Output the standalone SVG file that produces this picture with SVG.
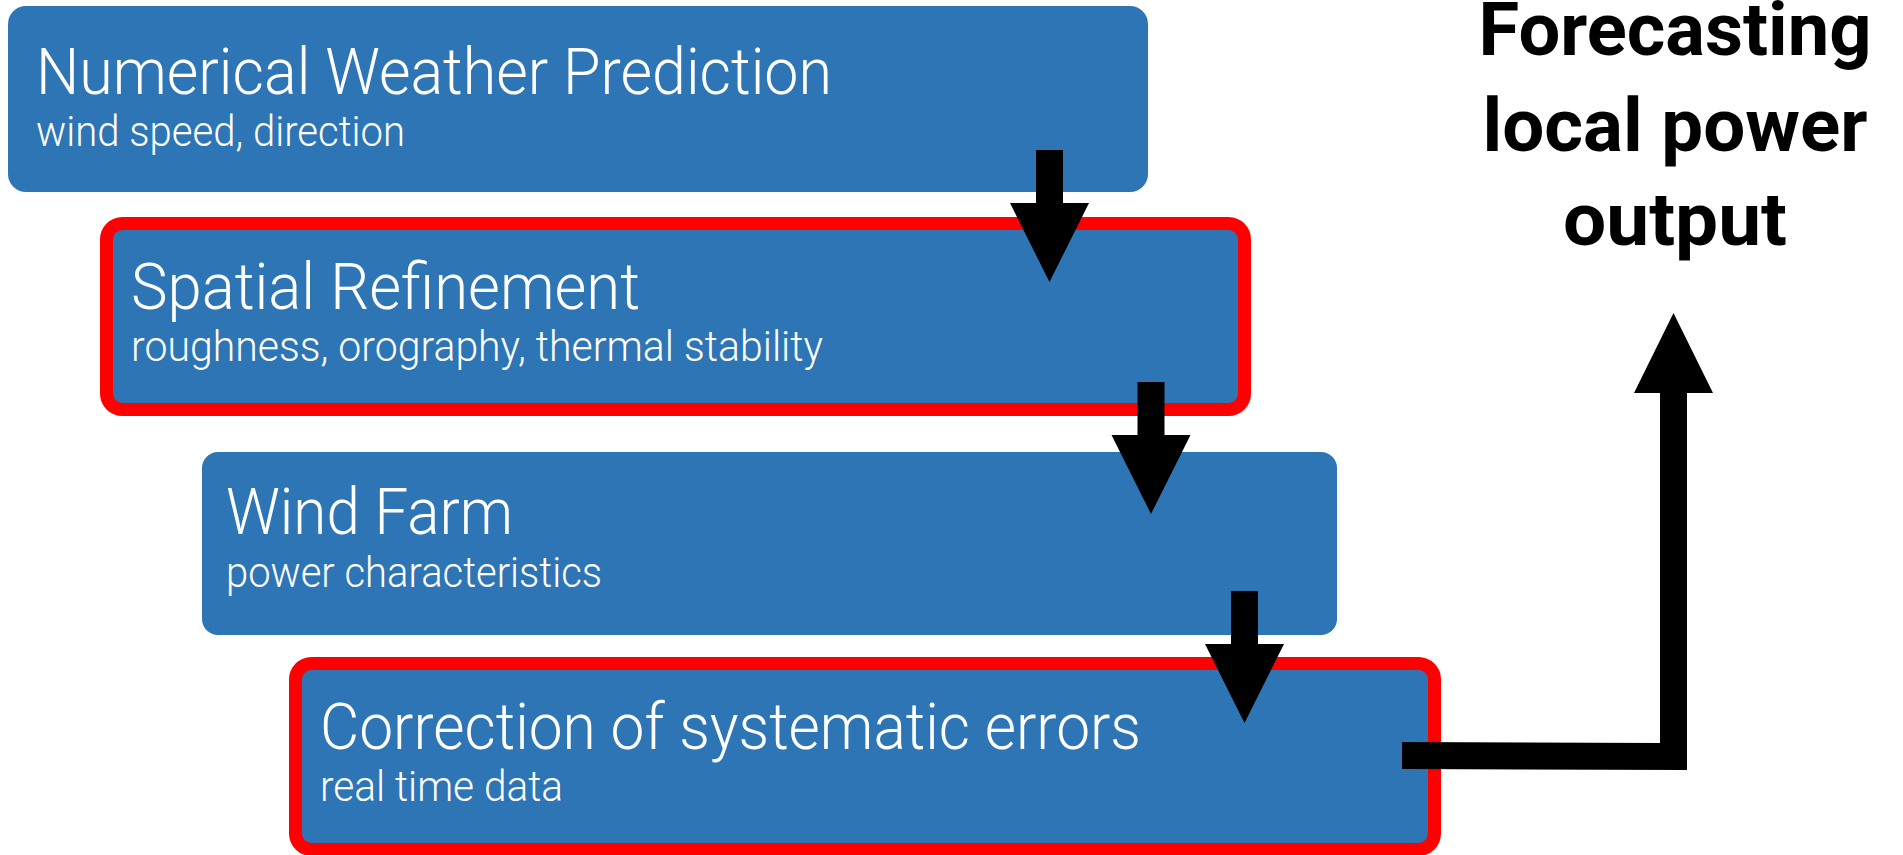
<svg xmlns="http://www.w3.org/2000/svg" width="1903" height="855" viewBox="0 0 1903 855">
<style>
.box{fill:#2E75B6}
.hl{fill:#2E75B6;stroke:#FF0000;stroke-width:13}
.t{font-family:Roboto,"Open Sans",sans-serif;font-weight:300;fill:#FFFFFF;font-size:64px}
.s{font-family:Roboto,"Open Sans",sans-serif;font-weight:300;fill:#FFFFFF;font-size:42.7px}
.f{font-family:Roboto,"Open Sans",sans-serif;font-weight:700;fill:#000000;font-size:74px;text-anchor:middle}
.arr{fill:#000000}
</style>
<defs>
<path id="down" d="M-13.5,-132 H13.5 V-79 H39.5 L0,0 L-39.5,-79 H-13.5 Z"/>
</defs>
<rect width="1903" height="855" fill="#FFFFFF"/>
<g id="nwp">
<rect class="box" x="8" y="6" width="1140" height="186" rx="18"/>
<text class="t" x="36" y="94" textLength="796" lengthAdjust="spacingAndGlyphs">Numerical Weather Prediction</text>
<text class="s" x="36" y="146" textLength="369" lengthAdjust="spacingAndGlyphs">wind speed, direction</text>
</g>
<g id="spatial">
<rect class="hl" x="106.5" y="223.5" width="1138" height="186" rx="16"/>
<text class="t" x="131" y="309" textLength="509" lengthAdjust="spacingAndGlyphs">Spatial Refinement</text>
<text class="s" x="131" y="361" textLength="692" lengthAdjust="spacingAndGlyphs">roughness, orography, thermal stability</text>
</g>
<g id="windfarm">
<rect class="box" x="202" y="452" width="1135" height="183" rx="16"/>
<text class="t" x="226" y="534" textLength="287" lengthAdjust="spacingAndGlyphs">Wind Farm</text>
<text class="s" x="226" y="587" textLength="376" lengthAdjust="spacingAndGlyphs">power characteristics</text>
</g>
<g id="correction">
<rect class="hl" x="295.5" y="663.5" width="1139" height="186" rx="16"/>
<text class="t" x="320" y="749" textLength="821" lengthAdjust="spacingAndGlyphs">Correction of systematic errors</text>
<text class="s" x="320" y="801" textLength="243" lengthAdjust="spacingAndGlyphs">real time data</text>
</g>
<g id="output">
<text class="f" x="1675" y="55" textLength="393" lengthAdjust="spacingAndGlyphs">Forecasting</text>
<text class="f" x="1675" y="151" textLength="385" lengthAdjust="spacingAndGlyphs">local power</text>
<text class="f" x="1675" y="245" textLength="224" lengthAdjust="spacingAndGlyphs">output</text>
</g>
<g id="connectors" class="arr">
<use href="#down" x="1049.5" y="282"/>
<use href="#down" x="1151" y="514"/>
<use href="#down" x="1244.5" y="723"/>
<polygon points="1402,742 1660,743 1660,393 1634,393 1673.5,313 1713,393 1687,393 1687,770 1402,769"/>
</g>
</svg>
